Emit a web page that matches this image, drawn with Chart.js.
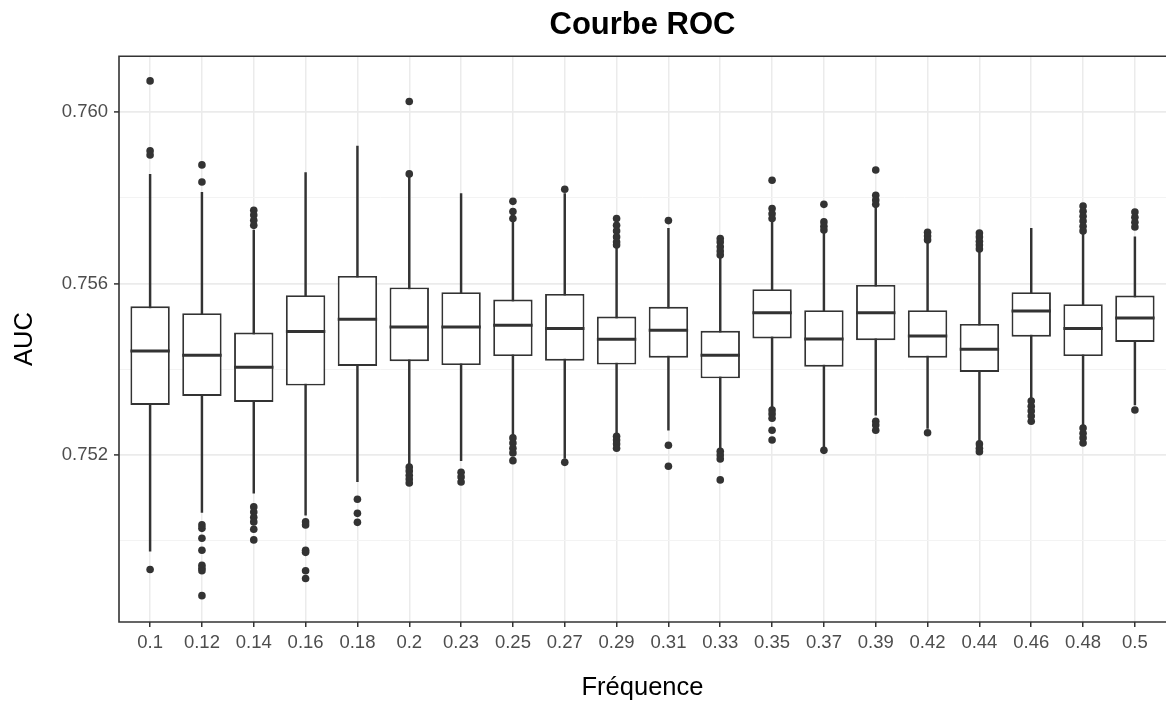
<!DOCTYPE html>
<html>
<head>
<meta charset="utf-8">
<title>Courbe ROC</title>
<script src="https://cdn.jsdelivr.net/npm/chart.js@4.4.1/dist/chart.umd.min.js"></script>
<style>
  html, body { margin: 0; padding: 0; background: #fff; overflow: hidden; }
  #wrap { position: relative; width: 1170px; height: 708px; }
</style>
</head>
<body>
<div id="wrap"><canvas id="rocChart"></canvas></div>
<script>
// Fréquences testées (axe x)
const frequences = ['0.1', '0.12', '0.14', '0.16', '0.18', '0.2', '0.23', '0.25', '0.27', '0.29',
                    '0.31', '0.33', '0.35', '0.37', '0.39', '0.42', '0.44', '0.46', '0.48', '0.5'];

// Statistiques des boîtes à moustaches de l'AUC
const basMoustache = [0.74976, 0.75066, 0.75111, 0.75060, 0.75138, 0.75179, 0.75187, 0.75247, 0.75192, 0.75251,
                      0.75258, 0.75216, 0.75309, 0.75218, 0.75293, 0.75262, 0.75231, 0.75332, 0.75270, 0.75317];
const q1 = [0.75317, 0.75338, 0.75324, 0.75362, 0.75408, 0.75419, 0.75410, 0.75431, 0.75420, 0.75411,
            0.75427, 0.75379, 0.75472, 0.75406, 0.75468, 0.75427, 0.75394, 0.75476, 0.75431, 0.75464];
const mediane = [0.75443, 0.75433, 0.75405, 0.75488, 0.75517, 0.75499, 0.75499, 0.75503, 0.75495, 0.75470,
                 0.75491, 0.75433, 0.75532, 0.75471, 0.75532, 0.75478, 0.75447, 0.75536, 0.75495, 0.75520];
const q3 = [0.75547, 0.75531, 0.75486, 0.75573, 0.75618, 0.75591, 0.75580, 0.75563, 0.75576, 0.75523,
            0.75546, 0.75490, 0.75587, 0.75538, 0.75597, 0.75538, 0.75506, 0.75580, 0.75552, 0.75572];
const hautMoustache = [0.75855, 0.75813, 0.75725, 0.75859, 0.75921, 0.75848, 0.75810, 0.75748, 0.75810, 0.75683,
                       0.75729, 0.75660, 0.75743, 0.75720, 0.75778, 0.75697, 0.75674, 0.75729, 0.75718, 0.75709];

// Valeurs aberrantes, une liste par fréquence
const aberrants = [
  [0.76073, 0.75910, 0.75900, 0.74933],
  [0.75877, 0.75837, 0.75037, 0.75029, 0.75006, 0.74978, 0.74943, 0.74936, 0.74930, 0.74872],
  [0.75771, 0.75760, 0.75748, 0.75736, 0.75079, 0.75067, 0.75055, 0.75044, 0.75027, 0.75002],
  [0.75044, 0.75037, 0.74978, 0.74973, 0.74930, 0.74912],
  [0.75097, 0.75064, 0.75043],
  [0.76025, 0.75856, 0.75172, 0.75163, 0.75153, 0.75144, 0.75135],
  [0.75160, 0.75149, 0.75137],
  [0.75792, 0.75768, 0.75752, 0.75240, 0.75228, 0.75216, 0.75205, 0.75187],
  [0.75820, 0.75183],
  [0.75752, 0.75736, 0.75723, 0.75709, 0.75697, 0.75690, 0.75244, 0.75235, 0.75226, 0.75216],
  [0.75747, 0.75223, 0.75174],
  [0.75705, 0.75697, 0.75686, 0.75676, 0.75667, 0.75209, 0.75200, 0.75191, 0.75142],
  [0.75841, 0.75775, 0.75763, 0.75752, 0.75305, 0.75296, 0.75286, 0.75258, 0.75235],
  [0.75785, 0.75744, 0.75734, 0.75725, 0.75211],
  [0.75865, 0.75806, 0.75795, 0.75785, 0.75279, 0.75270, 0.75258],
  [0.75720, 0.75711, 0.75702, 0.75252],
  [0.75718, 0.75709, 0.75699, 0.75690, 0.75681, 0.75226, 0.75216, 0.75208],
  [0.75326, 0.75314, 0.75303, 0.75291, 0.75279],
  [0.75781, 0.75769, 0.75757, 0.75746, 0.75734, 0.75723, 0.75263, 0.75251, 0.75240, 0.75228],
  [0.75767, 0.75755, 0.75743, 0.75732, 0.75305]
];

// Axe y : lignes de grille tous les 0.002, étiquettes tous les 0.004
const grilleY = [0.750, 0.752, 0.754, 0.756, 0.758, 0.760];
const etiquettesY = ['0.752', '0.756', '0.760'];

const ENCRE = '#333333';
const POLICE = "'Liberation Sans', Arial, sans-serif";
Chart.defaults.font.family = POLICE;

function estMajeure(v) {
  return etiquettesY.includes(v.toFixed(3));
}

// points {x, y} pour le contrôleur bar sur axe linéaire
const boites = frequences.map((f, i) => ({ x: i, y: [q1[i], q3[i]] }));
const moustaches = frequences.map((f, i) => ({ x: i, y: [basMoustache[i], hautMoustache[i]] }));
const points = [];
aberrants.forEach((vals, i) => vals.forEach(v => points.push({ x: i, y: v })));

// trace les médianes et le cadre du panneau (le bord droit tombe hors du canvas)
const boxExtras = {
  id: 'boxExtras',
  afterDatasetsDraw(chart) {
    const { ctx, chartArea, scales } = chart;
    const meta = chart.getDatasetMeta(1);
    ctx.save();
    ctx.strokeStyle = ENCRE;
    ctx.lineWidth = 3;
    meta.data.forEach((bar, i) => {
      const py = scales.y.getPixelForValue(mediane[i]);
      ctx.beginPath();
      ctx.moveTo(bar.x - bar.width / 2, py);
      ctx.lineTo(bar.x + bar.width / 2, py);
      ctx.stroke();
    });
    ctx.lineWidth = 1.6;
    ctx.beginPath();
    ctx.moveTo(chartArea.right + 2, chartArea.top);
    ctx.lineTo(chartArea.left, chartArea.top);
    ctx.lineTo(chartArea.left, chartArea.bottom);
    ctx.lineTo(chartArea.right + 2, chartArea.bottom);
    ctx.stroke();
    ctx.restore();
  }
};

new Chart(document.getElementById('rocChart'), {
  type: 'bar',
  data: {
    datasets: [
      {
        label: 'moustaches',
        data: moustaches,
        backgroundColor: ENCRE,
        borderWidth: 0,
        barThickness: 1.8,
        grouped: false,
        order: 3
      },
      {
        label: 'boîtes',
        data: boites,
        backgroundColor: '#ffffff',
        borderColor: ENCRE,
        borderWidth: 1.9,
        borderSkipped: false,
        barPercentage: 0.76,
        categoryPercentage: 1,
        grouped: false,
        order: 2
      },
      {
        type: 'scatter',
        label: 'aberrants',
        data: points,
        pointRadius: 3.8,
        pointBackgroundColor: ENCRE,
        pointBorderWidth: 0,
        order: 1
      }
    ]
  },
  options: {
    responsive: true,
    maintainAspectRatio: false,
    animation: false,
    layout: { padding: { left: 0, top: 0, right: 3, bottom: 0 } },
    plugins: {
      legend: { display: false },
      tooltip: { enabled: false },
      title: {
        display: true,
        text: 'Courbe ROC',
        fullSize: false,
        color: '#000000',
        font: { size: 31, weight: 'bold', family: POLICE },
        padding: { top: 7, bottom: 12 }
      }
    },
    scales: {
      x: {
        type: 'linear',
        min: -0.6,
        max: frequences.length - 0.4,
        offset: false,
        afterBuildTicks: s => { s.ticks = frequences.map((f, i) => ({ value: i })); },
        afterFit: s => { s.height = 86; },
        ticks: {
          callback: v => frequences[v],
          color: '#4d4d4d',
          font: { size: 18.5, family: POLICE },
          padding: 5,
          maxRotation: 0,
          autoSkip: false
        },
        grid: {
          offset: false,
          color: '#ebebeb',
          lineWidth: 1.5,
          tickLength: 5,
          tickColor: ENCRE,
          tickWidth: 1.5
        },
        border: { display: false },
        title: {
          display: true,
          text: 'Fréquence',
          color: '#000000',
          font: { size: 25.5, family: POLICE },
          padding: { top: 0, bottom: 5 }
        }
      },
      y: {
        type: 'linear',
        min: 0.748105,
        max: 0.761306,
        afterBuildTicks: s => { s.ticks = grilleY.map(v => ({ value: v })); },
        afterFit: s => { s.width = 119; },
        ticks: {
          callback: v => (estMajeure(v) ? v.toFixed(3) : ''),
          color: '#4d4d4d',
          font: { size: 18.5, family: POLICE },
          padding: 6
        },
        grid: {
          color: c => (estMajeure(c.tick.value) ? '#ebebeb' : '#f3f3f3'),
          lineWidth: c => (estMajeure(c.tick.value) ? 1.8 : 1),
          tickLength: 5,
          tickColor: c => (estMajeure(c.tick.value) ? ENCRE : 'rgba(0,0,0,0)'),
          tickWidth: 1.5
        },
        border: { display: false },
        title: {
          display: true,
          text: 'AUC',
          color: '#000000',
          font: { size: 25.5, family: POLICE },
          padding: { top: 10, bottom: 0 }
        }
      }
    }
  },
  plugins: [boxExtras]
});
</script>
</body>
</html>
